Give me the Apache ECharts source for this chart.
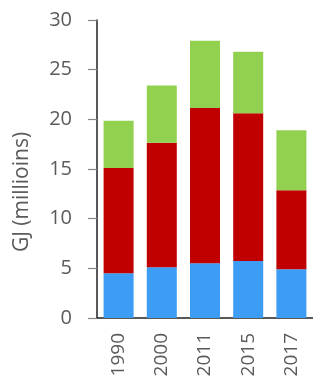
<!DOCTYPE html>
<html>
<head>
<meta charset="utf-8">
<script src="https://cdn.jsdelivr.net/npm/echarts@6/dist/echarts.min.js"></script>
<style>
html,body{margin:0;padding:0;background:#fff;}
#chart{width:313px;height:383px;}
</style>
</head>
<body>
<div id="chart"></div>
<script>
var years = ['1990', '2000', '2011', '2015', '2017'];
var blueVals = [4.5, 5.1, 5.5, 5.75, 4.9];
var redVals = [10.6, 12.55, 15.65, 14.85, 7.95];
var greenVals = [4.75, 5.75, 6.75, 6.2, 6.05];
var yTicks = [0, 5, 10, 15, 20, 25, 30];

var myChart = echarts.init(document.getElementById('chart'));
var font = '"Open Sans", "DejaVu Sans", sans-serif';
var option = {
	animation: false,
	grid: {left: 97, right: -4, top: 20, bottom: 65},
	xAxis: {
		type: 'category',
		data: years,
		axisLine: {lineStyle: {color: '#222', width: 1.5}},
		axisTick: {show: false},
		axisLabel: {rotate: 90, margin: 15, color: '#5a5a5a', fontSize: 19, fontFamily: font}
	},
	yAxis: {
		type: 'value',
		min: yTicks[0],
		max: yTicks[yTicks.length - 1],
		interval: 5,
		splitLine: {show: false},
		axisLine: {show: true, lineStyle: {color: '#222', width: 1.5}},
		axisTick: {show: true, length: 9, lineStyle: {color: '#888', width: 1.2}},
		axisLabel: {margin: 25, color: '#5a5a5a', fontSize: 20, fontFamily: font}
	},
	graphic: [{
		type: 'text',
		x: 22,
		y: 192,
		rotation: Math.PI / 2,
		style: {text: 'GJ (millioins)', fill: '#5a5a5a', fontSize: 21, fontFamily: font, align: 'center', verticalAlign: 'middle'}
	}],
	series: [
		{name: 'blue', type: 'bar', stack: 'a', barWidth: 30, data: blueVals, itemStyle: {color: '#3d9cf3'}},
		{name: 'red', type: 'bar', stack: 'a', barWidth: 30, data: redVals, itemStyle: {color: '#c00000'}},
		{name: 'green', type: 'bar', stack: 'a', barWidth: 30, data: greenVals, itemStyle: {color: '#92d050'}}
	]
};
myChart.setOption(option, true);
</script>
</body>
</html>
